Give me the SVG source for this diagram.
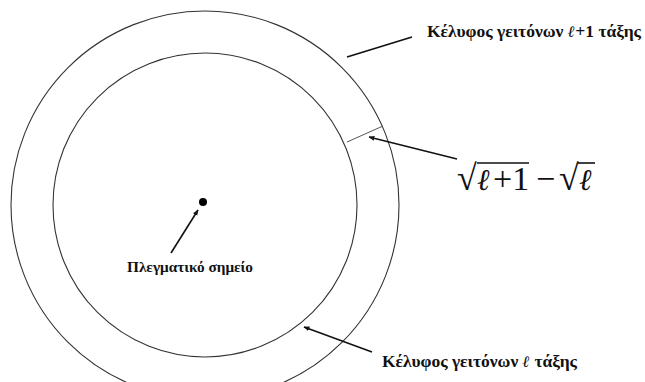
<svg xmlns="http://www.w3.org/2000/svg" width="645" height="382" viewBox="0 0 645 382">
<defs>
<style>
.ring{fill:none;stroke:#333;stroke-width:1.1}
.lead{fill:none;stroke:#111;stroke-width:1.6}
.lbl{font-family:"Liberation Serif","DejaVu Serif",serif;font-weight:bold;fill:#111}
.ell{font-family:"DejaVu Serif",serif;font-style:italic;font-weight:bold}
.math{font-family:"Liberation Serif","DejaVu Serif",serif;fill:#111}
.mell{font-family:"DejaVu Serif",serif;font-style:italic;fill:#111}
</style>
<marker id="ah" viewBox="0 0 10 10" refX="9" refY="5" markerWidth="6" markerHeight="6" orient="auto" markerUnits="userSpaceOnUse">
<path d="M0,1 L10,5 L0,9 z" fill="#111"/>
</marker>
</defs>
<rect width="645" height="382" fill="#fff"/>
<g id="outer-shell">
<circle class="ring" cx="205" cy="205" r="194"/>
</g>
<g id="inner-shell">
<circle class="ring" cx="205" cy="205" r="152"/>
</g>
<g id="lattice-point">
<circle cx="203" cy="202" r="4" fill="#000"/>
</g>
<g id="gap-segment">
<line x1="347" y1="142" x2="383" y2="126" stroke="#555" stroke-width="1"/>
</g>
<g id="connectors">
<line class="lead" x1="412" y1="37" x2="347" y2="57"/>
<line class="lead" x1="457" y1="159" x2="369" y2="137" marker-end="url(#ah)"/>
<line class="lead" x1="171" y1="253" x2="198" y2="210" marker-end="url(#ah)"/>
<line class="lead" x1="372" y1="352" x2="304" y2="327" marker-end="url(#ah)"/>
</g>
<g id="label-outer">
<text class="lbl" x="427" y="37" font-size="16" textLength="214" lengthAdjust="spacingAndGlyphs">Κέλυφος γειτόνων <tspan class="ell">ℓ</tspan>+1  τάξης</text>
</g>
<g id="label-inner">
<text class="lbl" x="382" y="367" font-size="16" textLength="195" lengthAdjust="spacingAndGlyphs">Κέλυφος γειτόνων <tspan class="ell">ℓ</tspan> τάξης</text>
</g>
<g id="label-point">
<text class="lbl" x="127" y="272" font-size="15" textLength="126" lengthAdjust="spacingAndGlyphs">Πλεγματικό σημείο</text>
</g>
<g id="label-gap">
<text class="math" x="457" y="190" font-size="36">√</text>
<line x1="477" y1="163" x2="529" y2="163" stroke="#111" stroke-width="1.6"/>
<text class="mell" x="477" y="190" font-size="30">ℓ</text>
<text class="math" x="493" y="190" font-size="34">+1</text>
<text class="math" x="536" y="190" font-size="34">−</text>
<text class="math" x="559" y="190" font-size="36">√</text>
<line x1="578" y1="163" x2="595" y2="163" stroke="#111" stroke-width="1.6"/>
<text class="mell" x="579" y="190" font-size="30">ℓ</text>
</g>
</svg>
